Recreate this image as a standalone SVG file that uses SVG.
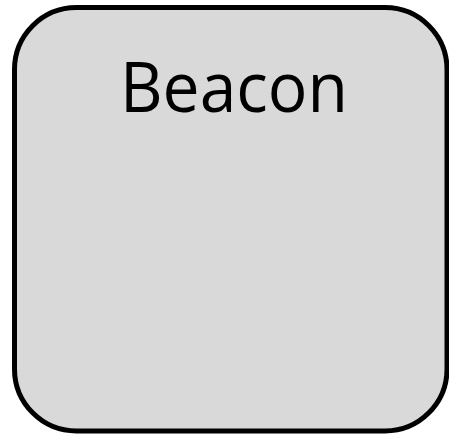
<svg xmlns="http://www.w3.org/2000/svg" width="449" height="434" viewBox="0 0 449 434">
<style>
.node{fill:#d9d9d9;stroke:#000;stroke-width:5}
.label{font-family:"Open Sans","Liberation Sans",sans-serif;font-size:70px;fill:#000}
</style>
<rect width="449" height="434" fill="#fff"/>
<g id="beacon">
<rect class="node" x="14.5" y="7.5" width="432.5" height="423.5" rx="62" ry="62"/>
<text class="label" x="234" y="112" text-anchor="middle" textLength="228" lengthAdjust="spacingAndGlyphs">Beacon</text>
</g>
<g id="connectors"></g>
</svg>
